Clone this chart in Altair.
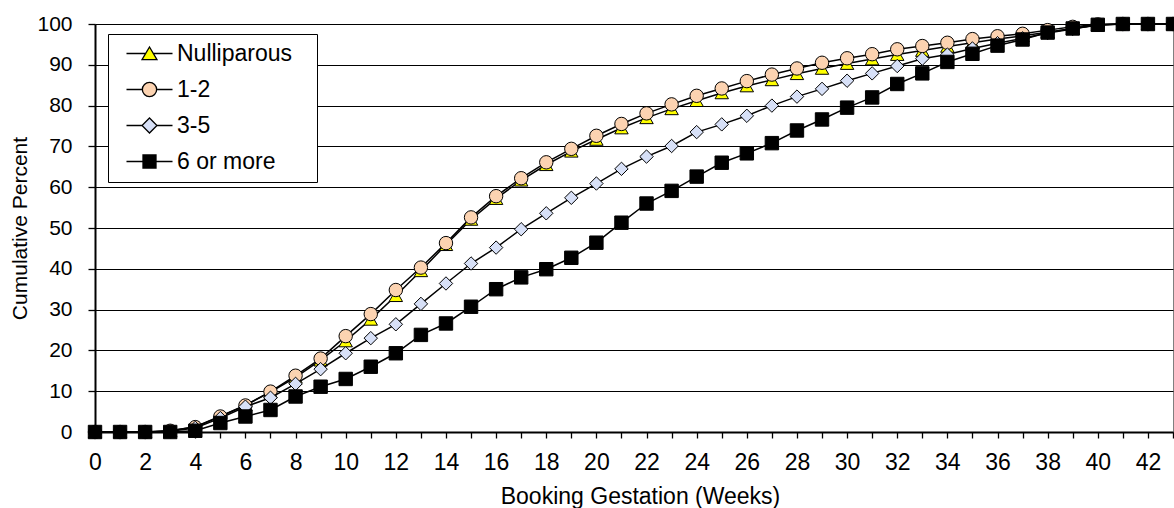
import altair as alt
import pandas as pd

weeks = list(range(0, 44))
series_names = ["Nulliparous", "1-2", "3-5", "6 or more"]

nulliparous = [0, 0, 0, 0.3, 1.3, 3.9, 6.6, 9.8, 13.4, 17.6, 22.3, 27.6, 33.4, 39.5,
               45.9, 52.1, 57.2, 61.7, 65.5, 68.8, 71.7, 74.5, 77.0, 79.2, 81.2, 83.1,
               84.8, 86.3, 87.8, 89.1, 90.3, 91.4, 92.5, 93.5, 94.5, 95.4, 96.3, 97.1,
               98.0, 98.9, 99.7, 100, 100, 100]
parity_1_2 = [0, 0, 0, 0.3, 1.2, 3.8, 6.5, 9.9, 13.8, 18.0, 23.5, 28.9, 34.8, 40.3,
              46.3, 52.6, 57.8, 62.2, 66.1, 69.4, 72.6, 75.5, 78.1, 80.3, 82.4, 84.2,
              86.0, 87.6, 89.1, 90.5, 91.6, 92.6, 93.8, 94.6, 95.4, 96.3, 97.0, 97.6,
              98.5, 99.3, 99.9, 100, 100, 100]
parity_3_5 = [0, 0, 0, 0.2, 1.0, 3.4, 6.2, 8.4, 11.8, 15.4, 19.3, 23.0, 26.4, 31.4,
              36.4, 41.3, 45.2, 49.7, 53.6, 57.4, 60.9, 64.5, 67.5, 70.1, 73.5, 75.4,
              77.5, 80.0, 82.2, 84.1, 86.1, 87.9, 89.7, 91.5, 92.5, 94.0, 95.3, 96.5,
              97.8, 98.8, 99.8, 100, 100, 100]
parity_6_plus = [0, 0, 0, 0, 0.3, 2.2, 3.8, 5.4, 8.7, 11.1, 13.0, 16.0, 19.3, 23.8,
                 26.6, 30.7, 35.0, 37.9, 39.9, 42.7, 46.4, 51.3, 56.0, 59.1, 62.6, 66.0,
                 68.3, 70.8, 73.9, 76.6, 79.5, 82.0, 85.3, 87.9, 90.7, 92.7, 94.7, 96.2,
                 97.9, 98.9, 99.8, 100, 100, 100]

fill_colors = ["#FFFF00", "#FCD3B1", "#D7E0F7", "#000000"]
marker_shapes = ["triangle-up", "circle", "diamond", "square"]
x_tick_values = list(range(0, 44))
y_tick_values = list(range(0, 101, 10))

# legend symbols: marker with a line segment on each side (unit coordinates)
legend_paths = [
    "M0,-1L1.15,0.95L-1.15,0.95Z M-3.54,0H-0.59 M0.59,0H3.54",
    "M-1.1,0A1.1,1.1,0,1,1,1.1,0A1.1,1.1,0,1,1,-1.1,0Z M-3.54,0H-1.1 M1.1,0H3.54",
    "M0,-1.15L1.15,0L0,1.15L-1.15,0Z M-3.54,0H-1.15 M1.15,0H3.54",
    "M-1,-1H1V1H-1Z M-3.54,0H-1 M1,0H3.54",
]

values = [nulliparous, parity_1_2, parity_3_5, parity_6_plus]
rows = []
for name, vals in zip(series_names, values):
    for w, v in zip(weeks, vals):
        rows.append({"week": w, "pct": v, "series": name})
df = pd.DataFrame(rows)

FONT = "Liberation Sans"

shape_expr = "datum.value == '%s' ? '%s' : datum.value == '%s' ? '%s' : datum.value == '%s' ? '%s' : '%s'" % (
    series_names[0], legend_paths[0], series_names[1], legend_paths[1],
    series_names[2], legend_paths[2], legend_paths[3])

legend = alt.Legend(
    title="\u00a0",
    titleOrient="right",
    titlePadding=17,
    titleFont=FONT,
    titleFontSize=23,
    orient="none",
    legendX=13,
    legendY=10,
    labelFont=FONT,
    labelFontSize=23,
    labelColor="black",
    symbolType={"expr": shape_expr},
    symbolSize=169,
    symbolStrokeColor="black",
    symbolStrokeWidth=1.3,
    symbolOffset=22,
    labelOffset=16,
    rowPadding=12,
    padding=8,
    strokeColor="black",
    fillColor="white",
)

x_axis = alt.Axis(
    title="Booking Gestation (Weeks)",
    values=x_tick_values,
    labelExpr="datum.value % 2 == 0 ? datum.label : ''",
    labelFlush=False,
    labelOverlap=False,
    labelBound=False,
    grid=False,
    tickSize=6,
    tickWidth=1.3,
    tickColor="black",
    domainColor="black",
    domainWidth=2,
    labelFont=FONT,
    labelFontSize=23,
    labelColor="black",
    labelPadding=13,
    titleFont=FONT,
    titleFontSize=23,
    titleFontWeight="normal",
    titleColor="black",
    titleX=545,
    titleY=71,
    titleBaseline="alphabetic",
)

y_axis = alt.Axis(
    title="Cumulative Percent",
    values=y_tick_values,
    grid=True,
    gridColor="black",
    gridWidth=1.2,
    gridOpacity=1,
    labelFlush=False,
    tickSize=7,
    tickWidth=1.3,
    tickColor="black",
    domainColor="black",
    domainWidth=2,
    labelFont=FONT,
    labelFontSize=21,
    labelColor="black",
    labelPadding=16,
    titleFont=FONT,
    titleFontSize=21,
    titleFontWeight="normal",
    titleColor="black",
    titleX=-75,
    titleY=204,
    titleAngle=270,
    titleAlign="center",
    titleBaseline="middle",
)

x_enc = alt.X("week:Q", scale=alt.Scale(domain=[0, 43], nice=False, zero=False), axis=x_axis)
y_enc = alt.Y("pct:Q", scale=alt.Scale(domain=[0, 100], nice=False), axis=y_axis)
fill_enc = alt.Fill("series:N", scale=alt.Scale(domain=series_names, range=fill_colors), legend=legend)

base = alt.Chart(df)
layers = []
for name, shp in zip(series_names, marker_shapes):
    sub = base.transform_filter(alt.datum.series == name)
    layers.append(sub.mark_line(color="black", strokeWidth=1.5).encode(x=x_enc, y=y_enc))
    layers.append(
        sub.mark_point(filled=True, shape=shp, size=180, stroke="black", strokeWidth=1, opacity=1).encode(
            x=x_enc, y=y_enc, fill=fill_enc
        )
    )

chart = (
    alt.layer(*layers)
    .properties(
        width=1078,
        height=408,
        padding={"left": 95, "top": 24, "right": 1, "bottom": 76},
        autosize=alt.AutoSizeParams(type="none"),
        background="white",
    )
    .configure_view(stroke="#808080", strokeWidth=1)
)

chart.save("out.html", embed_options={"renderer": "svg", "actions": False})
